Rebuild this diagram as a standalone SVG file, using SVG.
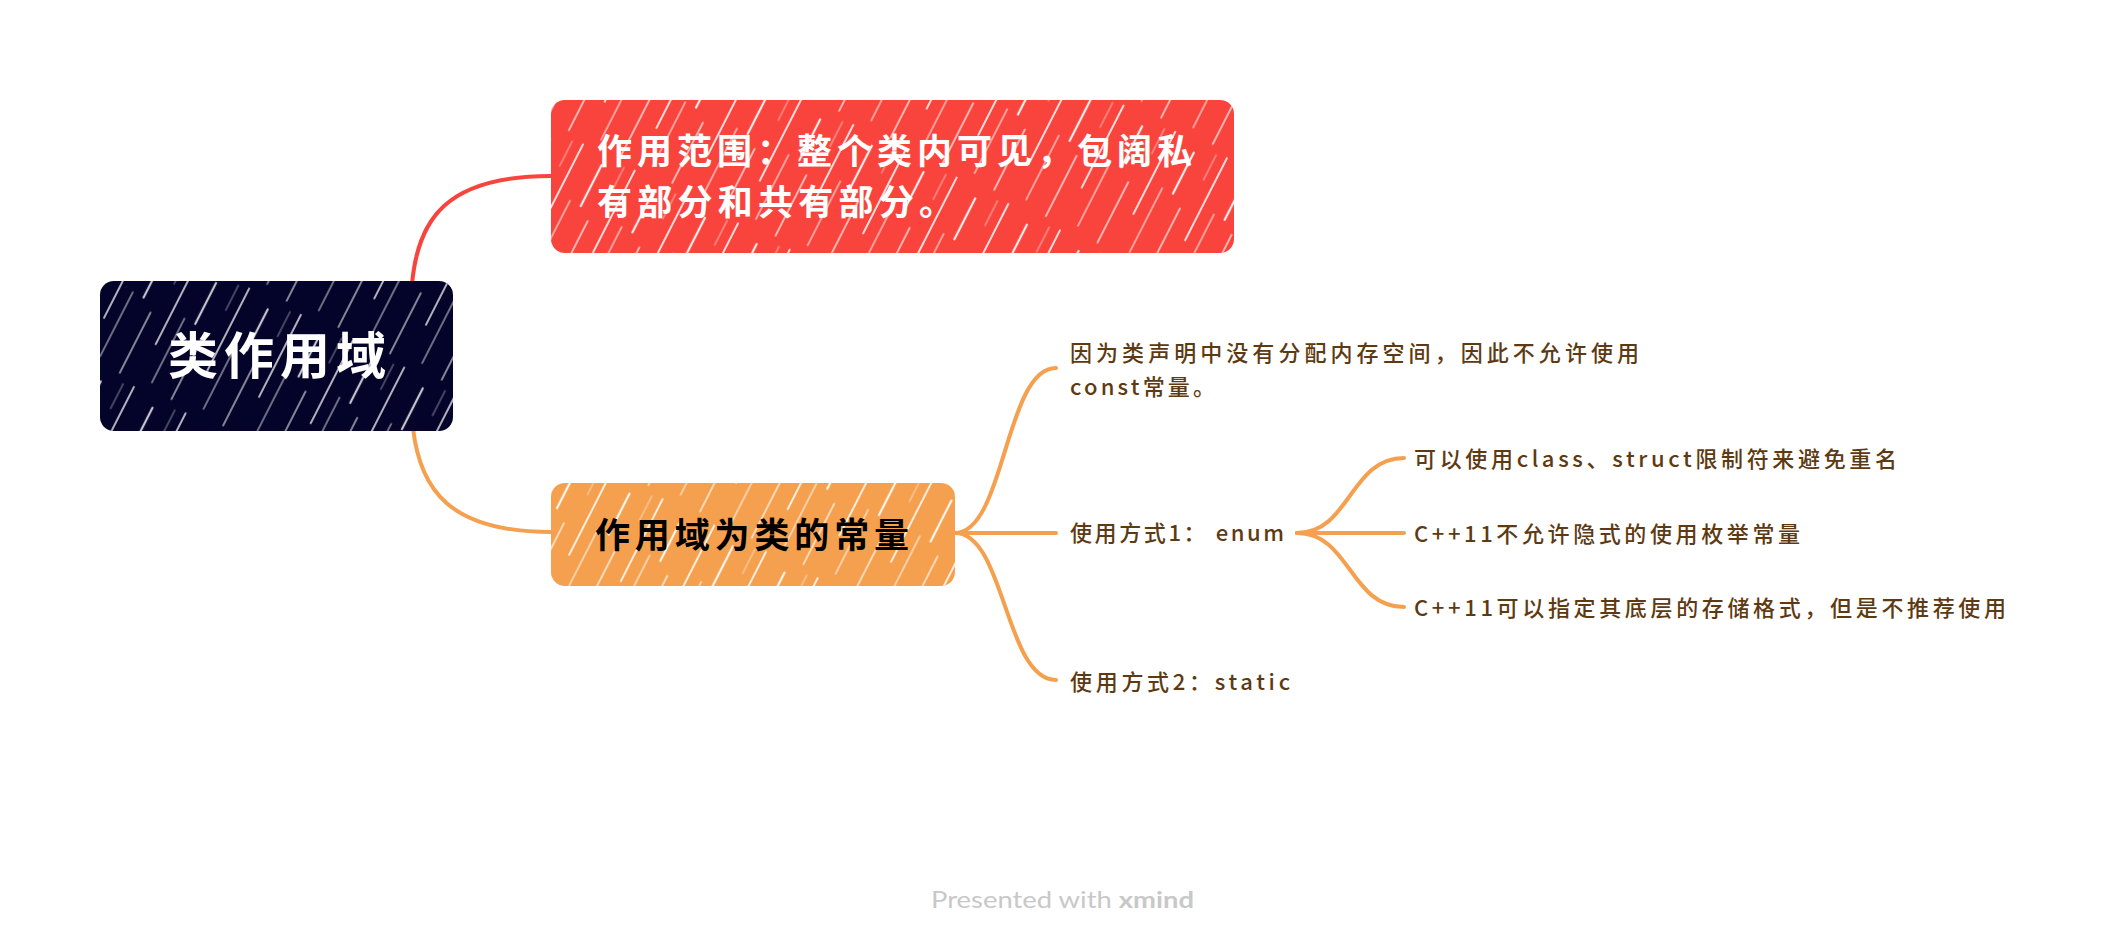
<svg xmlns="http://www.w3.org/2000/svg" width="2124" height="950" viewBox="0 0 2124 950">
  <defs>
    <pattern id="hatch" patternUnits="userSpaceOnUse" width="58" height="140" patternTransform="rotate(27)">
      <g stroke="#ffffff" stroke-linecap="round" fill="none">
        <line x1="5" y1="4" x2="5" y2="96" stroke-width="1.8" opacity="0.9"/>
        <line x1="19" y1="60" x2="19" y2="132" stroke-width="1.3" opacity="0.75"/>
        <line x1="31" y1="14" x2="31" y2="60" stroke-width="2.2" opacity="0.9"/>
        <line x1="44" y1="70" x2="44" y2="138" stroke-width="1.5" opacity="0.8"/>
        <line x1="52" y1="6" x2="52" y2="34" stroke-width="1" opacity="0.6"/>
      </g>
    </pattern>
    <style>
      .node-txt { font-family: "Noto Sans CJK SC", "Noto Sans", sans-serif; font-weight: 700; }
      .sub-txt { font-family: "Noto Sans CJK SC", "Noto Sans", sans-serif; font-size: 22px; font-weight: 500; fill: #5e3a12; }
      .hatch { fill: url(#hatch); }
      .conn { fill: none; stroke-linecap: round; stroke-width: 4; }
    </style>
  </defs>
  <rect width="2124" height="950" fill="#ffffff"/>

  <g id="connectors">
    <path class="conn" stroke="#f9443d" d="M412,284 C418,220 445,176 551,176"/>
    <path class="conn" stroke="#f5a04e" d="M413,428 C420,490 450,532 551,532"/>
    <path class="conn" stroke="#f5a04e" d="M955,533 C1005,533 1005,368 1056,368"/>
    <path class="conn" stroke="#f5a04e" d="M955,533 L1056,533" stroke-width="5"/>
    <path class="conn" stroke="#f5a04e" d="M955,533 C1005,533 1005,680 1056,680"/>
    <path class="conn" stroke="#f5a04e" d="M1297,533 C1350,533 1350,458 1404,458"/>
    <path class="conn" stroke="#f5a04e" d="M1297,533 L1404,533" stroke-width="5"/>
    <path class="conn" stroke="#f5a04e" d="M1297,533 C1350,533 1350,607 1404,607"/>
  </g>

  <g id="root">
    <rect x="100" y="281" width="353" height="150" rx="14" fill="#04042a"/>
    <rect x="100" y="281" width="353" height="150" rx="14" class="hatch" opacity="0.85"/>
    <text class="node-txt" x="168" y="374" font-size="50" fill="#ffffff" textLength="218" lengthAdjust="spacing">类作用域</text>
  </g>

  <g id="scope">
    <rect x="551" y="100" width="683" height="153" rx="14" fill="#f9443d"/>
    <rect x="551" y="100" width="683" height="153" rx="14" class="hatch"/>
    <text class="node-txt" x="597" y="164" font-size="35" fill="#ffffff" textLength="595" lengthAdjust="spacing">作用范围：整个类内可见，包阔私</text>
    <text class="node-txt" x="597" y="215" font-size="35" fill="#ffffff" textLength="357" lengthAdjust="spacing">有部分和共有部分。</text>
  </g>

  <g id="const">
    <rect x="551" y="483" width="404" height="103" rx="14" fill="#f5a04e"/>
    <rect x="551" y="483" width="404" height="103" rx="14" class="hatch"/>
    <text class="node-txt" x="595" y="548" font-size="35" fill="#000000" textLength="314" lengthAdjust="spacing">作用域为类的常量</text>
  </g>

  <g id="no-const">
    <text class="sub-txt" x="1070" y="361" textLength="569" lengthAdjust="spacing">因为类声明中没有分配内存空间，因此不允许使用</text>
    <text class="sub-txt" x="1070" y="395" textLength="145" lengthAdjust="spacing">const常量。</text>
  </g>

  <g id="enum">
    <text class="sub-txt" x="1070" y="541" textLength="214" lengthAdjust="spacing">使用方式1： enum</text>
  </g>

  <g id="static">
    <text class="sub-txt" x="1070" y="690" textLength="220" lengthAdjust="spacing">使用方式2：static</text>
  </g>

  <g id="enum-class">
    <text class="sub-txt" x="1414" y="467" textLength="483" lengthAdjust="spacing">可以使用class、struct限制符来避免重名</text>
  </g>

  <g id="enum-implicit">
    <text class="sub-txt" x="1414" y="542" textLength="386" lengthAdjust="spacing">C++11不允许隐式的使用枚举常量</text>
  </g>

  <g id="enum-underlying">
    <text class="sub-txt" x="1414" y="616" textLength="592" lengthAdjust="spacing">C++11可以指定其底层的存储格式，但是不推荐使用</text>
  </g>

  <g id="footer">
    <text x="931" y="908" font-family="Lato, 'Noto Sans', sans-serif" font-size="23" fill="#c8c8c8" textLength="263" lengthAdjust="spacingAndGlyphs">Presented with <tspan font-weight="700">xmind</tspan></text>
  </g>
</svg>
